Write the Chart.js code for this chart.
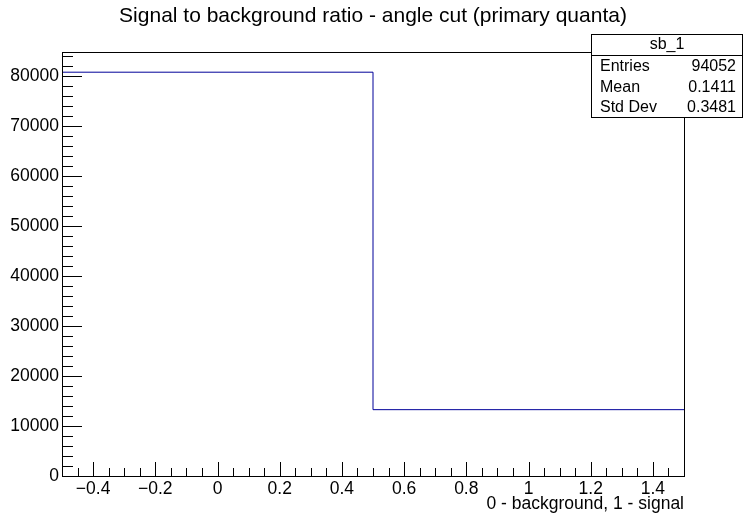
<!DOCTYPE html>
<html>
<head>
<meta charset="utf-8">
<script src="https://cdn.jsdelivr.net/npm/chart.js@4.4.1/dist/chart.umd.min.js"></script>
<style>
html,body{margin:0;padding:0;background:#fff;}
#wrap{width:743px;height:515px;}
</style>
</head>
<body>
<div id="wrap"><canvas id="c" width="743" height="515"></canvas></div>
<script>
// histogram sb_1
var BIN_EDGES=[-0.5,0.5,1.5];
var BIN_COUNTS=[80781,13271];
var STATS_NAMES=["Entries","Mean","Std Dev"];
var STATS_VALUES=["94052","0.1411","0.3481"];
var HIST_NAME="sb_1";
var TITLE="Signal to background ratio - angle cut (primary quanta)";
var X_TITLE="0 - background, 1 - signal";

var FONT="'Liberation Sans', Arial, sans-serif";

// step points: low edge of each bin, plus last upper edge
var pts=new Array();
for(i=0;i<BIN_COUNTS.length;i++){
	pts.push({x:BIN_EDGES[i],y:BIN_COUNTS[i]});
}
pts.push({x:BIN_EDGES[BIN_EDGES.length-1],y:BIN_COUNTS[BIN_COUNTS.length-1]});

var yMax=Math.max.apply(null,BIN_COUNTS)*1.05;

function fmtX(v){
	var s=(Math.round(v*10)/10).toString();
	return s.replace('-','\u2212');
}

// frame, inward ticks, title and stats box like ROOT
var rootPlugin={
	id:'rootLook',
	afterDatasetsDraw:function(chart){
		var ctx=chart.ctx, a=chart.chartArea;
		var xs=chart.scales.x, ys=chart.scales.y;
		ctx.save();
		ctx.strokeStyle='#000';
		ctx.lineWidth=1;
		ctx.strokeRect(Math.round(a.left)+0.5,Math.round(a.top)+0.5,Math.round(a.right-a.left),Math.round(a.bottom-a.top));
		ctx.beginPath();
		xs.ticks.forEach(function(t){
			var px=Math.round(xs.getPixelForValue(t.value))+0.5;
			var major=Math.abs(t.value*5-Math.round(t.value*5))<1e-6;
			ctx.moveTo(px,a.bottom);
			ctx.lineTo(px,a.bottom-(major?14:8));
		});
		ys.ticks.forEach(function(t){
			var py=Math.round(ys.getPixelForValue(t.value))+0.5;
			var major=t.value%10000==0;
			ctx.moveTo(a.left,py);
			ctx.lineTo(a.left+(major?20:11),py);
		});
		ctx.stroke();

		// title
		ctx.fillStyle='#000';
		ctx.font='21px '+FONT;
		ctx.textAlign='center';
		ctx.textBaseline='middle';
		ctx.fillText(TITLE,373,16);

		// stats box
		var bx=591.5,by=34.5,bw=151,bh=83;
		ctx.fillStyle='#fff';
		ctx.fillRect(bx,by,bw,bh);
		ctx.strokeRect(bx,by,bw,bh);
		ctx.beginPath();
		ctx.moveTo(bx,55.5);ctx.lineTo(bx+bw,55.5);
		ctx.stroke();
		ctx.fillStyle='#000';
		ctx.font='16px '+FONT;
		ctx.textAlign='center';
		ctx.fillText(HIST_NAME,bx+bw/2,45);
		for(i=0;i<STATS_NAMES.length;i++){
			var ry=67+i*20.5;
			ctx.textAlign='left';
			ctx.fillText(STATS_NAMES[i],600,ry);
			ctx.textAlign='right';
			ctx.fillText(STATS_VALUES[i],736,ry);
		}
		ctx.restore();
	}
};

var config={
	type:'line',
	data:{
		datasets:[{
			data:pts,
			stepped:'before',
			borderColor:'#000099',
			borderWidth:1,
			pointRadius:0,
			fill:false
		}]
	},
	options:{
		responsive:false,
		animation:false,
		layout:{padding:{top:52,right:59,left:0,bottom:0}},
		plugins:{legend:{display:false},tooltip:{enabled:false}},
		scales:{
			x:{
				type:'linear',
				min:BIN_EDGES[0],
				max:BIN_EDGES[BIN_EDGES.length-1],
				afterBuildTicks:function(s){
					var t=[];
					for(var k=-10;k<=30;k++){t.push({value:Math.round(k*0.05*1000)/1000});}
					s.ticks=t;
				},
				afterFit:function(s){s.height=39;},
				grid:{display:false,drawTicks:false},
				border:{display:false},
				ticks:{
					autoSkip:false,maxRotation:0,padding:3,color:'#000',
					font:{family:FONT,size:17.5},
					callback:function(v){
						var k=Math.round(v*20);
						return (k%4==0)?fmtX(v):'';
					}
				},
				title:{display:true,text:X_TITLE,align:'end',color:'#000',font:{family:FONT,size:17.5},padding:{top:0,bottom:0}}
			},
			y:{
				type:'linear',
				min:0,
				max:yMax,
				afterBuildTicks:function(s){
					var t=[];
					for(var v=0;v<=yMax;v+=2000){t.push({value:v});}
					s.ticks=t;
				},
				afterFit:function(s){s.width=62;},
				grid:{display:false,drawTicks:false},
				border:{display:false},
				ticks:{
					autoSkip:false,padding:3,color:'#000',
					font:{family:FONT,size:17.5},
					callback:function(v){return (v%10000==0)?String(v):'';}
				}
			}
		}
	},
	plugins:[rootPlugin]
};

new Chart(document.getElementById('c').getContext('2d'),config);
</script>
</body>
</html>
